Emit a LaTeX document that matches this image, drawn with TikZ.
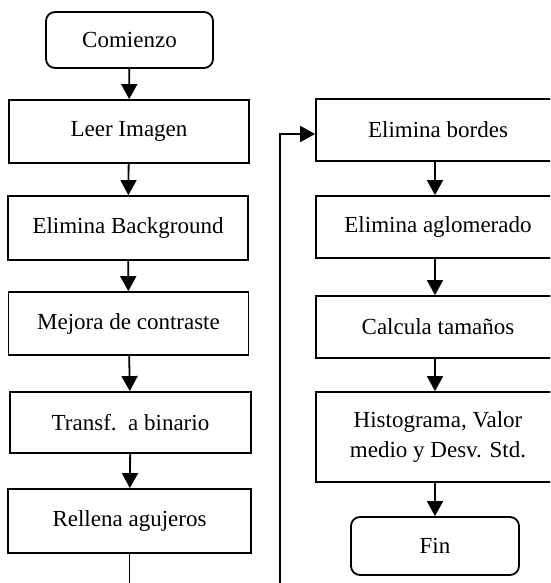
\documentclass[tikz,border=0pt]{standalone}
\usepackage{fontspec}
\setmainfont{Liberation Serif}
\usetikzlibrary{arrows.meta,calc}
\begin{document}
\begin{tikzpicture}[x=1pt,y=-1pt,
  box/.style={draw,line width=1.8pt,minimum width=240pt,minimum height=63pt,inner sep=0pt,font=\fontsize{23}{30}\selectfont,align=center},
  rbox/.style={box,minimum width=244pt},
  term/.style={box,rounded corners=9pt,minimum width=167pt,minimum height=56pt},
  arr/.style={line width=1.8pt,-{Triangle[width=16pt,length=15pt]}}]
\useasboundingbox (0,0) rectangle (550,583);
\clip (0,0) rectangle (550,583);
\fill[white] (0,0) rectangle (550,583);
% left column
\node[term] (com) at (129.5,40) {Comienzo};
\node[box] (leer) at (129,131.5) {Leer Imagen};
\node[box,minimum height=64pt] (back) at (128,228) {Elimina Background};
\node[box] (mej) at (128.5,323.5) {Mejora de contraste};
\node[box,minimum height=61pt,minimum width=241pt] (bin) at (130.5,422.5) {Transf.\ \ a binario};
\node[box,minimum height=64pt,minimum width=243pt] (rel) at (129.5,521) {Rellena agujeros};
% right column
\node[rbox,minimum height=62pt] (bord) at (438,130) {Elimina bordes};
\node[rbox,minimum height=62pt] (aglo) at (438,227) {Elimina aglomerado};
\node[rbox,minimum height=62pt] (calc) at (438,327) {Calcula tama\~nos};
\node[rbox,minimum height=90pt] (hist) at (438,437) {Histograma, Valor\\medio y Desv. Std.};
\node[term,minimum width=168pt,minimum height=58pt] (fin) at (435,546) {Fin};
% connectors
\draw[arr] (com) -- (leer);
\draw[arr] (leer) -- (back);
\draw[arr] (back) -- (mej);
\draw[arr] (mej) -- (bin);
\draw[arr] (bin) -- (rel);
\draw[arr] (rel.south) -- ++(0,60) -| ($(bord.west)+(-35,4)$) -- ($(bord.west)+(0,4)$);
\draw[arr] (bord.south -| fin) -- (aglo.north -| fin);
\draw[arr] (aglo.south -| fin) -- (calc.north -| fin);
\draw[arr] (calc.south -| fin) -- (hist.north -| fin);
\draw[arr] (hist.south -| fin) -- (fin);
\end{tikzpicture}
\end{document}
